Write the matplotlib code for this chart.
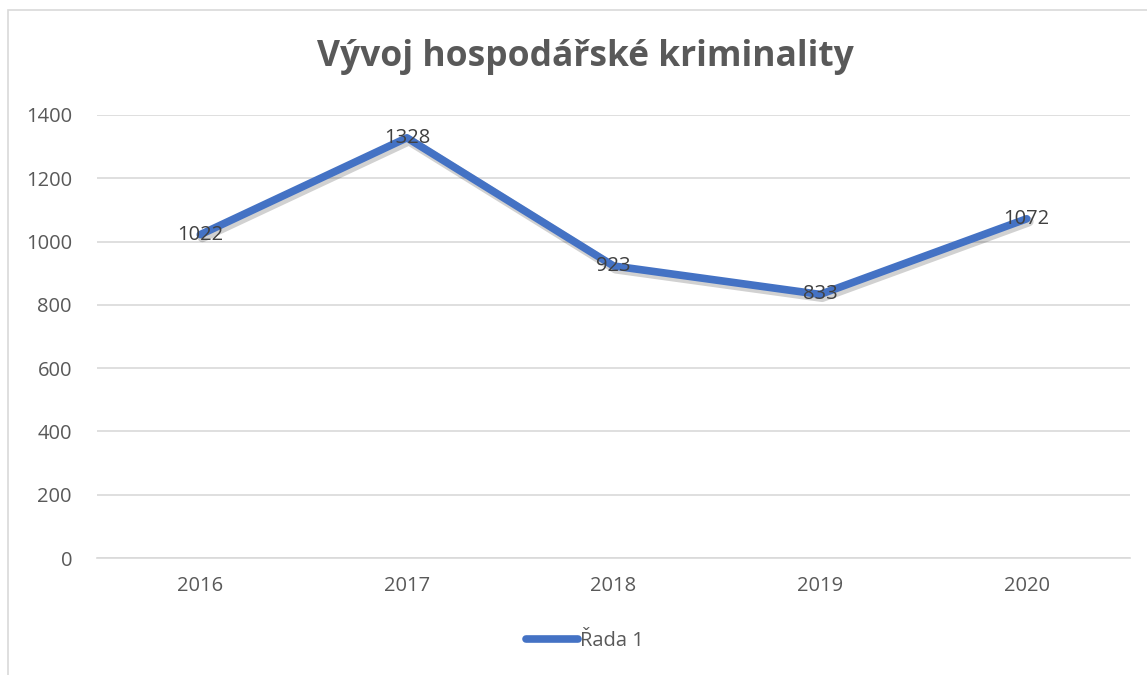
import matplotlib
matplotlib.use("Agg")
import matplotlib.pyplot as plt
import matplotlib.patheffects as pe
from matplotlib.patches import Rectangle

# data
years = ["2016", "2017", "2018", "2019", "2020"]
values = [1022, 1328, 923, 833, 1072]
series_name = "Řada 1"
title = "Vývoj hospodářské kriminality"

plt.rcParams['font.family'] = ['Open Sans', 'DejaVu Sans']

fig = plt.figure(figsize=(11.47, 6.75), dpi=100)
W, H = 1147, 675

# outer chart frame (only left and top edges visible)
fig.patches.append(Rectangle((8 / W, -0.1), 1.2, (675 - 10) / H + 0.1,
                             transform=fig.transFigure, fill=False,
                             edgecolor="#d9d9d9", linewidth=1.2))

# axes placement in pixels: x 97..1130, y 115..558
ax = fig.add_axes([97 / W, (H - 558) / H, (1130 - 97) / W, (558 - 115) / H])

x = list(range(len(years)))
line, = ax.plot(x, values, color="#4472C4", linewidth=5.5, solid_capstyle="round",
                solid_joinstyle="round", label=series_name, zorder=3,
                path_effects=[pe.SimpleLineShadow(offset=(1.5, -2), shadow_color="black",
                                                  alpha=0.18, rho=1, linewidth=7),
                              pe.Normal()])

for xi, v in zip(x, values):
    ax.text(xi, v, str(v), ha="center", va="center", fontsize=14.5,
            color="#404040", zorder=4)

ax.set_xlim(-0.5, len(years) - 0.5)
ax.set_ylim(0, 1400)
ax.set_yticks(range(0, 1401, 200))
ax.set_xticks(x)
ax.set_xticklabels(years)
ax.tick_params(axis="both", length=0, labelsize=14.5, labelcolor="#595959")
ax.tick_params(axis="y", pad=18)
ax.tick_params(axis="x", pad=13)
ax.grid(axis="y", color="#d9d9d9", linewidth=1.2)
ax.set_axisbelow(True)
for s in ["top", "right", "left"]:
    ax.spines[s].set_visible(False)
ax.spines["bottom"].set_color("#d9d9d9")
ax.spines["bottom"].set_linewidth(1.2)

fig.text(585 / W, 1 - 57 / H, title, ha="center", va="center", fontsize=25.5,
         fontweight="bold", color="#595959")

leg = fig.legend(handles=[line], loc="center", bbox_to_anchor=(585 / W, 1 - 641 / H),
                 frameon=False, fontsize=14.5, handlelength=2.6, handletextpad=0.1,
                 labelcolor="#595959")
for h in leg.legend_handles:
    h.set_path_effects([])

fig.savefig("out.png", dpi=100)
